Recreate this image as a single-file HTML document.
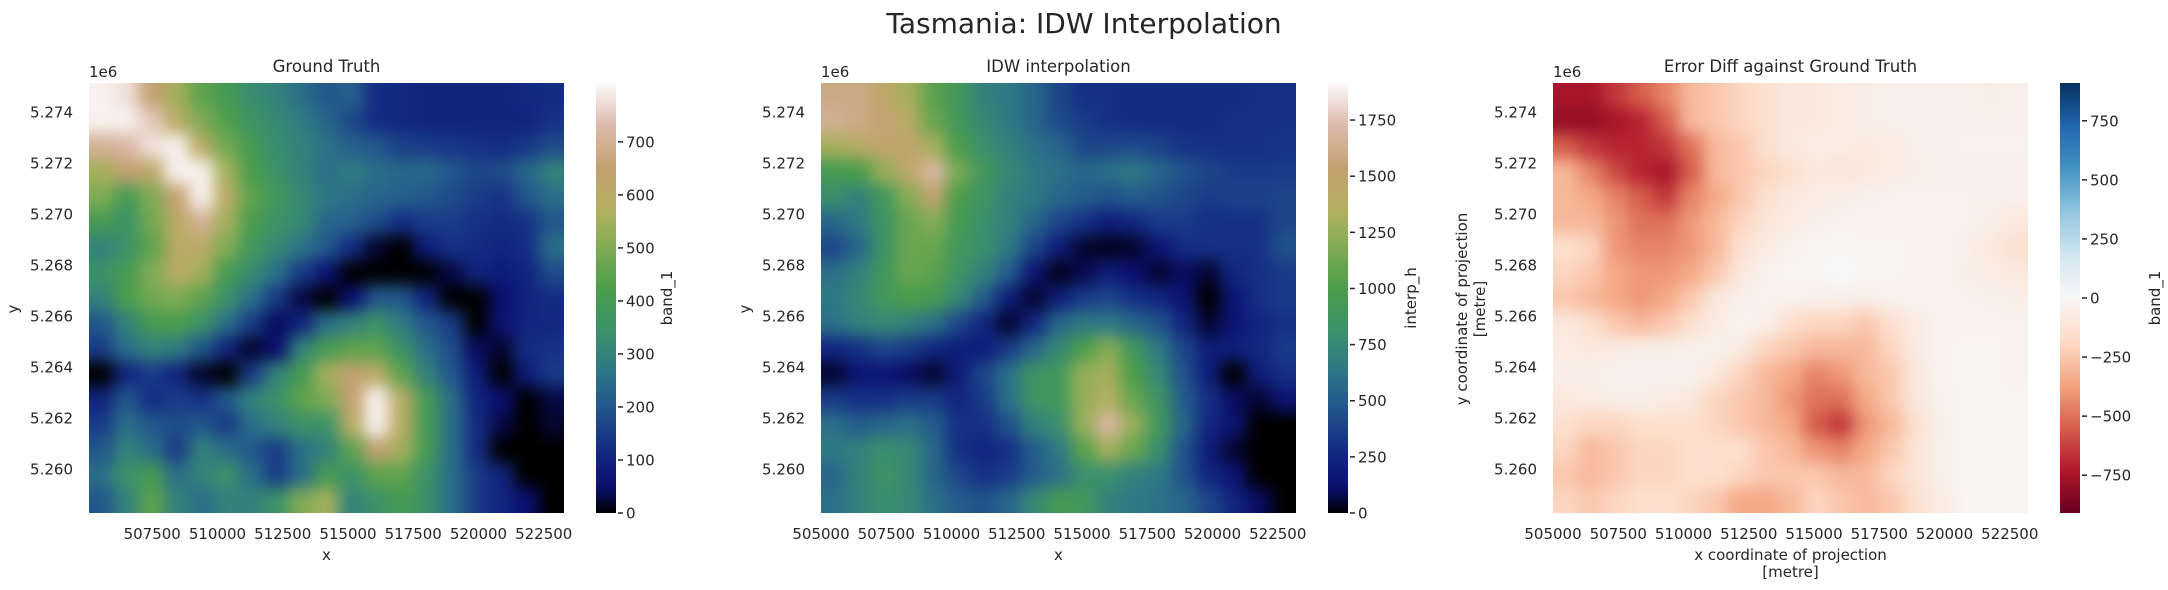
<!DOCTYPE html>
<html><head><meta charset="utf-8"><title>Tasmania: IDW Interpolation</title>
<style>
html,body{margin:0;padding:0;background:#fff;}
svg{display:block;font-family:"DejaVu Sans","Liberation Sans",sans-serif;}
text{fill:#262626;}
</style></head>
<body>
<svg id="fig" width="2168" height="590" viewBox="0 0 2168 590" xmlns="http://www.w3.org/2000/svg">
<defs>
<filter id="soft" filterUnits="userSpaceOnUse" x="0" y="0" width="2168" height="590" color-interpolation-filters="sRGB"><feGaussianBlur stdDeviation="8"/></filter>
<clipPath id="clip0"><rect x="89" y="83" width="475" height="430"/></clipPath>
<clipPath id="clip1"><rect x="821" y="83" width="475" height="430"/></clipPath>
<clipPath id="clip2"><rect x="1553" y="83" width="475" height="430"/></clipPath>
</defs>
<text x="1084" y="33" font-size="28" text-anchor="middle">Tasmania: IDW Interpolation</text>
</svg>
<script>
// ---------------- data ----------------
const xTickValues=[505000,507500,510000,512500,515000,517500,520000,522500];
const yTickValues=[5.260,5.262,5.264,5.266,5.268,5.270,5.272,5.274];
const yTickLabels=["5.260","5.262","5.264","5.266","5.268","5.270","5.272","5.274"];
const cbTicksTruth=[0,100,200,300,400,500,600,700];
const cbTicksIdw=[0,250,500,750,1000,1250,1500,1750];
const cbTicksDiff=[-750,-500,-250,0,250,500,750];
const cbLabelsDiff=["\u2212750","\u2212500","\u2212250","0","250","500","750"];
const truthGrid=[
[800,780,650,550,450,400,330,300,250,200,220,120,110,100,100,100,100,110,120],
[800,800,750,600,500,430,360,320,280,230,170,120,110,100,100,100,100,100,130],
[700,720,780,800,600,480,400,330,300,260,220,200,160,150,140,130,120,140,180],
[550,650,620,800,800,550,420,350,300,250,280,250,230,240,200,170,180,230,300],
[500,400,500,650,800,600,450,380,320,270,250,230,220,200,180,150,130,200,250],
[400,350,480,600,700,550,420,350,320,230,220,180,120,150,150,130,120,130,200],
[300,350,450,600,600,500,380,320,260,200,120,20,0,80,130,120,100,120,250],
[350,400,500,600,550,400,330,250,150,60,0,0,0,0,30,100,80,100,180],
[300,420,480,500,450,350,250,150,30,0,50,200,200,100,0,0,50,100,120],
[200,300,400,420,350,250,150,40,100,250,300,350,280,200,150,0,60,100,110],
[150,250,300,280,200,100,20,50,300,400,450,450,350,250,180,40,20,120,130],
[0,100,150,100,20,0,150,300,400,550,650,600,450,300,200,80,0,80,150],
[100,200,120,150,130,200,300,350,450,500,650,800,600,400,250,100,50,0,30],
[150,250,200,180,200,150,250,300,350,350,600,800,600,400,250,120,30,0,20],
[200,300,250,150,300,250,200,150,250,300,450,650,550,400,250,120,0,0,0],
[250,350,400,250,300,350,250,150,250,400,350,450,450,350,250,150,100,0,0],
[200,300,450,300,250,300,300,350,500,550,300,350,400,350,250,150,100,50,0]];
const idwGrid=[
[1600,1600,1450,1300,1050,900,700,650,550,400,300,300,280,280,280,280,280,300,300],
[1650,1600,1550,1400,1100,900,750,650,550,420,350,300,280,280,280,280,300,300,300],
[1300,1400,1500,1500,1300,1000,800,700,600,550,400,400,420,380,320,300,300,300,320],
[950,1000,1250,1450,1700,1150,900,750,650,600,550,600,650,550,450,400,350,350,350],
[800,700,900,1200,1500,1000,850,700,650,550,500,450,500,450,400,350,380,380,400],
[550,650,850,1100,1200,950,800,700,550,400,300,200,250,350,350,300,300,300,400],
[400,550,850,1100,1100,900,800,650,400,200,50,30,50,150,280,300,300,300,450],
[600,700,900,1100,1050,850,700,500,150,30,80,200,120,50,100,50,250,300,350],
[650,750,900,1000,950,750,500,200,50,200,350,400,300,250,150,0,150,300,350],
[600,700,750,700,600,400,250,50,250,550,650,650,550,450,250,50,150,250,300],
[250,300,400,350,250,200,200,350,550,750,1000,1200,900,650,400,200,200,250,350],
[50,150,150,100,50,200,400,600,850,900,1250,1300,1000,750,450,200,0,200,300],
[350,300,300,350,350,250,350,600,850,900,1250,1350,1100,850,500,300,100,50,150],
[600,500,550,600,500,300,300,450,700,800,1250,1700,1250,900,550,250,150,0,0],
[650,700,800,750,550,300,250,300,500,650,1050,1300,1100,800,450,200,50,0,0],
[550,700,850,750,550,400,300,350,500,600,800,800,700,650,450,250,150,0,0],
[600,700,800,750,600,500,450,550,750,950,900,700,650,600,550,400,250,100,0]];
const diffGrid=[
[-750,-750,-650,-550,-450,-300,-250,-200,-150,-100,-100,-80,-60,-50,-50,-50,-50,-60,-50],
[-800,-800,-750,-700,-550,-300,-250,-200,-150,-100,-100,-80,-60,-50,-50,-50,-50,-50,-50],
[-550,-650,-700,-700,-650,-500,-300,-250,-150,-100,-80,-80,-100,-80,-50,-50,-40,-40,-40],
[-300,-450,-600,-700,-750,-550,-300,-250,-200,-150,-100,-120,-100,-80,-60,-50,-50,-50,-50],
[-300,-350,-450,-550,-650,-450,-350,-250,-150,-100,-80,-60,-50,-40,-40,-40,-40,-50,-50],
[-300,-300,-400,-500,-500,-400,-300,-200,-120,-80,-50,-40,-30,-30,-40,-40,-40,-60,-100],
[-150,-200,-400,-450,-450,-400,-300,-150,-80,-40,-20,-10,-20,-20,-30,-30,-50,-100,-150],
[-200,-250,-350,-400,-400,-350,-250,-100,-40,-20,-10,0,-10,-20,-30,-30,-60,-80,-100],
[-250,-300,-350,-400,-350,-250,-100,-50,-40,-40,-50,-50,-60,-40,-30,-30,-40,-50,-60],
[-100,-150,-250,-300,-250,-150,-80,-30,-50,-150,-200,-200,-250,-150,-80,-30,-30,-30,-40],
[-80,-100,-80,-60,-60,-50,-40,-80,-200,-250,-300,-300,-300,-200,-80,-30,-20,-20,-30],
[-60,-60,-40,-40,-40,-40,-100,-200,-300,-350,-450,-400,-300,-250,-100,-30,-20,-20,-30],
[-100,-80,-60,-60,-80,-100,-200,-250,-300,-400,-500,-500,-350,-250,-100,-40,-20,-20,-20],
[-150,-200,-200,-150,-150,-150,-200,-250,-300,-350,-550,-650,-400,-300,-150,-50,-20,-20,-20],
[-200,-300,-250,-200,-200,-150,-150,-150,-250,-300,-400,-450,-350,-250,-120,-50,-20,-20,-20],
[-250,-300,-250,-200,-200,-150,-150,-200,-250,-250,-250,-300,-300,-200,-120,-50,-20,-20,-20],
[-200,-250,-200,-150,-150,-200,-250,-350,-350,-300,-200,-250,-300,-250,-150,-80,-20,-20,-20]];

// ---------------- styling ----------------
const NS="http://www.w3.org/2000/svg";
const svg=document.getElementById('fig');
const EARTH=[[0,[0,0,0]],[0.06,[10,14,112]],[0.15,[20,45,132]],[0.25,[35,88,140]],[0.33,[45,118,135]],[0.42,[58,145,108]],[0.52,[74,157,74]],[0.62,[130,172,84]],[0.7,[178,176,94]],[0.8,[195,160,112]],[0.9,[220,185,170]],[1,[253,250,250]]];
const RDBU=[[0,[103,0,31]],[0.1,[178,24,43]],[0.2,[214,96,77]],[0.3,[244,165,130]],[0.4,[253,219,199]],[0.5,[247,247,247]],[0.6,[209,229,240]],[0.7,[146,197,222]],[0.8,[67,147,195]],[0.9,[33,102,172]],[1,[5,48,97]]];
function cmap(stops,t){t=Math.max(0,Math.min(1,t));for(let i=1;i<stops.length;i++){if(t<=stops[i][0]){const a=stops[i-1],b=stops[i];const f=(t-a[0])/(b[0]-a[0]);const c=a[1].map((v,k)=>Math.round(v+(b[1][k]-v)*f));return `rgb(${c[0]},${c[1]},${c[2]})`;}}const l=stops[stops.length-1][1];return `rgb(${l[0]},${l[1]},${l[2]})`;}
function mk(tag,attrs,parent){const e=document.createElementNS(NS,tag);for(const k in attrs)e.setAttribute(k,attrs[k]);(parent||svg).appendChild(e);return e;}

const PW=475,PH=430,TOP=83,BOT=513;
const panels=[
 {left:89,grid:truthGrid,stops:EARTH,vmin:0,vmax:811,title:"Ground Truth",cbT:cbTicksTruth,cbL:cbTicksTruth.map(String),cbLabel:"band_1",xlab:["x"],ylab:["y"],xt:xTickValues.slice(1),x0:505077,name:"ground-truth"},
 {left:821,grid:idwGrid,stops:EARTH,vmin:0,vmax:1915,title:"IDW interpolation",cbT:cbTicksIdw,cbL:cbTicksIdw.map(String),cbLabel:"interp_h",xlab:["x"],ylab:["y"],xt:xTickValues,x0:505000,name:"idw"},
 {left:1553,grid:diffGrid,stops:RDBU,vmin:-910,vmax:910,title:"Error Diff against Ground Truth",cbT:cbTicksDiff,cbL:cbLabelsDiff,cbLabel:"band_1",xlab:["x coordinate of projection","[metre]"],ylab:["y coordinate of projection","[metre]"],xt:xTickValues,x0:505000,name:"error-diff"}
];
const Y0=5.25827,Y1=5.27514;
function yScale(v){return BOT-(v-Y0)/(Y1-Y0)*PH;}
const FS=15;

panels.forEach((p,pi)=>{
 const g=mk('g',{'clip-path':`url(#clip${pi})`});
 
 
 const inner=mk('g',{filter:'url(#soft)'},g);
 const rows=p.grid.length,cols=p.grid[0].length,cw=PW/cols,ch=PH/rows,pad=40;
 const xScale=v=>p.left+(v-p.x0)*0.0261;
 p.grid.forEach((row,r)=>row.forEach((v,c)=>{
  const x0=p.left+c*cw-(c===0?pad:0),x1=p.left+(c+1)*cw+(c===cols-1?pad:0.6);
  const y0=TOP+r*ch-(r===0?pad:0),y1=TOP+(r+1)*ch+(r===rows-1?pad:0.6);
  const rc=mk('rect',{x:x0.toFixed(2),y:y0.toFixed(2),width:(x1-x0).toFixed(2),height:(y1-y0).toFixed(2),fill:cmap(p.stops,(v-p.vmin)/(p.vmax-p.vmin))},inner);
  
  
 }));
 const t=mk('text',{x:p.left+PW/2,y:72,'font-size':16.5,'text-anchor':'middle'});t.textContent=p.title;
 
 const off=mk('text',{x:p.left,y:77,'font-size':FS});off.textContent="1e6";
 
 yTickValues.forEach((v,i)=>{const e=mk('text',{x:p.left-16,y:yScale(v)+5.5,'font-size':FS,'text-anchor':'end'});e.textContent=yTickLabels[i];
  });
 p.xt.forEach(v=>{const e=mk('text',{x:xScale(v),y:539,'font-size':FS,'text-anchor':'middle'});e.textContent=String(v);
  });
 p.xlab.forEach((s,i)=>{const e=mk('text',{x:p.left+PW/2,y:560+i*17,'font-size':FS,'text-anchor':'middle'});e.textContent=s;
  });
 const ylx=p.ylab.length>1?p.left-86:p.left-71;
 p.ylab.forEach((s,i)=>{const xx=ylx+i*18;const e=mk('text',{x:xx,y:309,'font-size':FS,'text-anchor':'middle',transform:`rotate(-90 ${xx} 309)`});e.textContent=s;
  });
 const cbx=p.left+PW+32,cbw=20;
 const gid='grad'+pi;
 const defs=svg.querySelector('defs');
 const lg=mk('linearGradient',{id:gid,x1:0,y1:1,x2:0,y2:0},defs);
 for(let k=0;k<=40;k++){mk('stop',{offset:k/40,'stop-color':cmap(p.stops,k/40)},lg);}
 const cb=mk('rect',{x:cbx,y:TOP,width:cbw,height:PH,fill:`url(#${gid})`});
 
 const cy=v=>BOT-(v-p.vmin)/(p.vmax-p.vmin)*PH;
 p.cbT.forEach((v,i)=>{const yy=cy(v);
  mk('line',{x1:cbx+cbw+2,x2:cbx+cbw+7,y1:yy,y2:yy,stroke:'#262626','stroke-width':1.5});
  const e=mk('text',{x:cbx+cbw+10,y:yy+5.5,'font-size':FS});e.textContent=p.cbL[i];
  });
 const lx=cbx+cbw+(pi===0?56:(pi===1?68:80));
 const cl=mk('text',{x:lx,y:298,'font-size':FS,'text-anchor':'middle',transform:`rotate(-90 ${lx} 298)`});cl.textContent=p.cbLabel;
 
});
</script>
</body></html>
